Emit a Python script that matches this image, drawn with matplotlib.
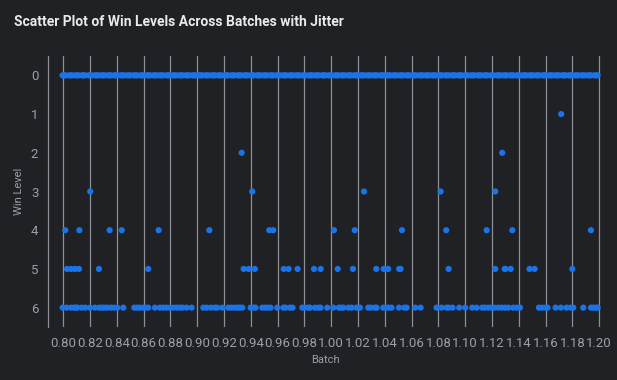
import matplotlib
matplotlib.use("Agg")
import matplotlib.pyplot as plt

# ---------------- data ----------------
level0_x = [0.7995, 0.8018, 0.8043, 0.8066, 0.8090, 0.8114, 0.8139, 0.8161, 0.8188, 0.8211,
            0.8236, 0.8261, 0.8284, 0.8308, 0.8333, 0.8357, 0.8381, 0.8406, 0.8429, 0.8455,
            0.8478, 0.8503, 0.8528, 0.8551, 0.8576, 0.8599, 0.8624, 0.8649, 0.8673, 0.8697,
            0.8720, 0.8745, 0.8770, 0.8794, 0.8818, 0.8843, 0.8866, 0.8891, 0.8915, 0.8939,
            0.8963, 0.8986, 0.9012, 0.9036, 0.9060, 0.9083, 0.9108, 0.9133, 0.9157, 0.9180,
            0.9205, 0.9230, 0.9254, 0.9277, 0.9302, 0.9326, 0.9351, 0.9375, 0.9398, 0.9423,
            0.9447, 0.9472, 0.9496, 0.9519, 0.9544, 0.9568, 0.9593, 0.9617, 0.9640, 0.9665,
            0.9690, 0.9714, 0.9737, 0.9762, 0.9787, 0.9810, 0.9835, 0.9859, 0.9882, 0.9907,
            0.9932, 0.9956, 0.9979, 1.0004, 1.0028, 1.0053, 1.0077, 1.0100, 1.0125, 1.0149,
            1.0174, 1.0198, 1.0221, 1.0246, 1.0270, 1.0295, 1.0319, 1.0342, 1.0367, 1.0391,
            1.0416, 1.0440, 1.0463, 1.0488, 1.0512, 1.0537, 1.0561, 1.0584, 1.0609, 1.0633,
            1.0658, 1.0682, 1.0705, 1.0730, 1.0754, 1.0779, 1.0803, 1.0826, 1.0851, 1.0875,
            1.0900, 1.0924, 1.0947, 1.0972, 1.0996, 1.1021, 1.1045, 1.1068, 1.1093, 1.1117,
            1.1142, 1.1166, 1.1189, 1.1214, 1.1238, 1.1263, 1.1287, 1.1310, 1.1335, 1.1359,
            1.1384, 1.1408, 1.1431, 1.1456, 1.1480, 1.1505, 1.1529, 1.1552, 1.1577, 1.1601,
            1.1626, 1.1650, 1.1673, 1.1698, 1.1722, 1.1747, 1.1771, 1.1794, 1.1819, 1.1843,
            1.1868, 1.1892, 1.1915, 1.1940, 1.1964, 1.1988,
            0.8007, 0.8054, 0.8102, 0.8150, 0.8199, 0.8248, 0.8296, 0.8345, 0.8394, 0.8441,
            0.8490, 0.8539, 0.8588, 0.8636, 0.8685, 0.8733, 0.8782, 0.8830, 0.8879, 0.8927,
            0.8975, 0.9024, 0.9072, 0.9121, 0.9169, 0.9217, 0.9266, 0.9314, 0.9363, 0.9411,
            0.9459, 0.9508, 0.9556, 0.9605, 0.9653, 0.9701, 0.9750, 0.9798, 0.9847, 0.9895,
            0.9944, 0.9992, 1.0040, 1.0089, 1.0137, 1.0186, 1.0234, 1.0282, 1.0331, 1.0379,
            1.0428, 1.0476, 1.0524, 1.0573, 1.0621, 1.0670, 1.0718, 1.0766, 1.0815, 1.0863,
            1.0912, 1.0960, 1.1008, 1.1057, 1.1105, 1.1154, 1.1202, 1.1250, 1.1299, 1.1347,
            1.1396, 1.1444, 1.1492, 1.1541, 1.1589, 1.1638, 1.1686, 1.1734, 1.1783, 1.1831,
            1.1880, 1.1928, 1.1976]

level1_x = [1.1716]

level2_x = [0.9331, 1.1276]

level3_x = [0.8201, 0.9410, 1.0244, 1.0816, 1.1224]

level4_x = [0.8015, 0.8120, 0.8346, 0.8436, 0.8712, 0.9090, 0.9537, 0.9567,
            1.0020, 1.0175, 1.0528, 1.0858, 1.1160, 1.1351, 1.1938]

level5_x = [0.8028, 0.8058, 0.8087, 0.8117, 0.8266, 0.8634, 0.9346, 0.9384, 0.9430,
            0.9645, 0.9682, 0.9749, 0.9871, 0.9921, 1.0048, 1.0162, 1.0336, 1.0391,
            1.0425, 1.0507, 1.0517, 1.0876, 1.1224, 1.1294, 1.1300, 1.1339, 1.1480,
            1.1518, 1.1799]

level6_x = [0.7995, 0.8025, 0.8057, 0.8080, 0.8095, 0.8104, 0.8137, 0.8164, 0.8199, 0.8236,
            0.8269, 0.8289, 0.8306, 0.8328, 0.8356, 0.8378, 0.8403, 0.8448, 0.8530, 0.8552,
            0.8572, 0.8597, 0.8614, 0.8634, 0.8684, 0.8721, 0.8746, 0.8771, 0.8796, 0.8821,
            0.8846, 0.8871, 0.8891, 0.8920, 0.8958, 0.9045, 0.9070, 0.9102, 0.9132, 0.9149,
            0.9187, 0.9231, 0.9256, 0.9281, 0.9301, 0.9318, 0.9336, 0.9398, 0.9418, 0.9435,
            0.9485, 0.9505, 0.9525, 0.9547, 0.9597, 0.9642, 0.9659, 0.9692, 0.9711, 0.9784,
            0.9803, 0.9828, 0.9841, 0.9878, 0.9903, 0.9920, 0.9970, 1.0015, 1.0057, 1.0077,
            1.0090, 1.0129, 1.0152, 1.0189, 1.0214, 1.0276, 1.0296, 1.0326, 1.0338, 1.0388,
            1.0408, 1.0428, 1.0450, 1.0505, 1.0545, 1.0562, 1.0627, 1.0667, 1.0786, 1.0823,
            1.0861, 1.0876, 1.0905, 1.0955, 1.1000, 1.1052, 1.1085, 1.1127, 1.1147, 1.1172,
            1.1197, 1.1216, 1.1246, 1.1271, 1.1296, 1.1321, 1.1358, 1.1383, 1.1408, 1.1550,
            1.1575, 1.1600, 1.1614, 1.1674, 1.1714, 1.1756, 1.1786, 1.1806, 1.1881, 1.1938,
            1.1955, 1.1973, 1.1988]

win_levels = [0, 1, 2, 3, 4, 5, 6]
level_xs = [level0_x, level1_x, level2_x, level3_x, level4_x, level5_x, level6_x]

x_ticks = [0.80, 0.82, 0.84, 0.86, 0.88, 0.90, 0.92, 0.94, 0.96, 0.98, 1.00,
           1.02, 1.04, 1.06, 1.08, 1.10, 1.12, 1.14, 1.16, 1.18, 1.20]

# ---------------- style ----------------
BG = "#202124"
PT = "#1a73e8"
GRID = "#8c8f93"
TXT = "#9aa0a6"

plt.rcParams["font.family"] = ["Roboto", "DejaVu Sans"]

fig = plt.figure(figsize=(6.17, 3.80), dpi=100, facecolor=BG)
ax = fig.add_axes([48 / 617, 1 - 327 / 380, (603 - 48) / 617, (327 - 56) / 380])
ax.set_facecolor(BG)

for lvl, xs in zip(win_levels, level_xs):
    ax.scatter(xs, [lvl] * len(xs), s=20, color=PT, edgecolors="none", zorder=3)

ax.set_xlim(0.7886, 1.2028)
ax.set_ylim(6.5, -0.5)
ax.set_xticks(x_ticks)
ax.set_xticklabels([f"{t:.2f}" for t in x_ticks])
ax.set_yticks(win_levels)

ax.grid(axis="x", color=GRID, linewidth=0.9)
ax.grid(axis="y", visible=False)
ax.set_axisbelow(True)

for side in ["top", "right", "bottom"]:
    ax.spines[side].set_visible(False)
ax.spines["left"].set_color(GRID)
ax.spines["left"].set_linewidth(0.9)

ax.tick_params(axis="both", length=0, colors=TXT, labelsize=9.5)
ax.tick_params(axis="x", pad=7)
ax.tick_params(axis="y", pad=7)

ax.set_xlabel("Batch", color=TXT, fontsize=8, labelpad=4)
ax.set_ylabel("Win Level", color=TXT, fontsize=8, labelpad=5)

fig.text(14 / 617, 1 - 22 / 380, "Scatter Plot of Win Levels Across Batches with Jitter",
         color="#e8eaed", fontsize=10, fontweight="bold", ha="left", va="center")

fig.savefig("out.png", dpi=100, facecolor=BG)
